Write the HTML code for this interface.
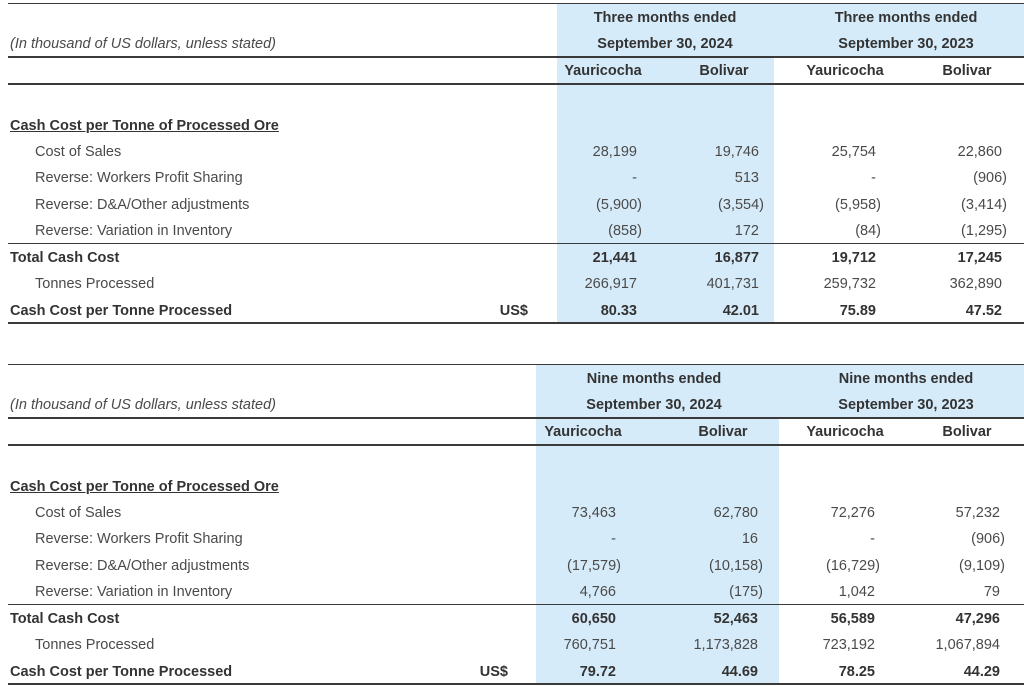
<!DOCTYPE html>
<html><head><meta charset="utf-8"><style>
body{margin:0;width:1024px;height:687px;background:#fff;position:relative;overflow:hidden;font-family:"Liberation Sans",Arial,sans-serif;font-size:14.5px;color:#4a4a4a}
div{position:absolute;white-space:nowrap;line-height:18px;margin-top:1px}
.b{font-weight:bold;color:#333}
.bg{background:#d6ebf9;position:absolute;margin-top:0}
.ln{left:8px;right:0;height:2px;background:#3a3a3a;margin-top:0}
.c{transform:translateX(-50%)}
i{font-style:italic}
</style></head><body>
<div class="bg" style="left:557px;width:467px;top:4px;height:53px"></div>
<div class="bg" style="left:557px;width:217px;top:57px;height:266px"></div>
<div class="bg" style="left:536px;width:488px;top:365px;height:53px"></div>
<div class="bg" style="left:536px;width:243px;top:418px;height:266px"></div>

<div class="ln" style="top:3px;height:1px"></div>
<div class="ln" style="top:56px"></div>
<div class="ln" style="top:83px"></div>
<div class="ln" style="top:243px;height:1px"></div>
<div class="ln" style="top:322px"></div>
<div class="ln" style="top:364px;height:1px"></div>
<div class="ln" style="top:417px"></div>
<div class="ln" style="top:444px"></div>
<div class="ln" style="top:604px;height:1px"></div>
<div class="ln" style="top:683px"></div>

<div class="b c" style="left:665px;top:8px">Three months ended</div>
<div class="b c" style="left:906px;top:8px">Three months ended</div>
<div style="left:10px;top:34px"><i>(In thousand of US dollars, unless stated)</i></div>
<div class="b c" style="left:665px;top:34px">September 30, 2024</div>
<div class="b c" style="left:906px;top:34px">September 30, 2023</div>
<div class="b c" style="left:603px;top:61px">Yauricocha</div>
<div class="b c" style="left:724px;top:61px">Bolivar</div>
<div class="b c" style="left:845px;top:61px">Yauricocha</div>
<div class="b c" style="left:967px;top:61px">Bolivar</div>
<div class="b" style="left:10px;top:116px;text-decoration:underline">Cash Cost per Tonne of Processed Ore</div>
<div style="left:35px;top:142px">Cost of Sales</div>
<div style="left:35px;top:168px">Reverse: Workers Profit Sharing</div>
<div style="left:35px;top:195px">Reverse: D&amp;A/Other adjustments</div>
<div style="left:35px;top:221px">Reverse: Variation in Inventory</div>
<div class="b" style="left:10px;top:248px">Total Cash Cost</div>
<div style="left:35px;top:274px">Tonnes Processed</div>
<div class="b" style="left:10px;top:301px">Cash Cost per Tonne Processed</div>
<div class="b" style="right:496px;top:301px">US$</div>

<div style="right:387px;top:142px">28,199</div><div style="right:265px;top:142px">19,746</div><div style="right:148px;top:142px">25,754</div><div style="right:22px;top:142px">22,860</div>
<div style="right:387px;top:168px">-</div><div style="right:265px;top:168px">513</div><div style="right:148px;top:168px">-</div><div style="right:17px;top:168px">(906)</div>
<div style="right:382px;top:195px">(5,900)</div><div style="right:260px;top:195px">(3,554)</div><div style="right:143px;top:195px">(5,958)</div><div style="right:17px;top:195px">(3,414)</div>
<div style="right:382px;top:221px">(858)</div><div style="right:265px;top:221px">172</div><div style="right:143px;top:221px">(84)</div><div style="right:17px;top:221px">(1,295)</div>
<div class="b" style="right:387px;top:248px">21,441</div><div class="b" style="right:265px;top:248px">16,877</div><div class="b" style="right:148px;top:248px">19,712</div><div class="b" style="right:22px;top:248px">17,245</div>
<div style="right:387px;top:274px">266,917</div><div style="right:265px;top:274px">401,731</div><div style="right:148px;top:274px">259,732</div><div style="right:22px;top:274px">362,890</div>
<div class="b" style="right:387px;top:301px">80.33</div><div class="b" style="right:265px;top:301px">42.01</div><div class="b" style="right:148px;top:301px">75.89</div><div class="b" style="right:22px;top:301px">47.52</div>

<div class="b c" style="left:654px;top:369px">Nine months ended</div>
<div class="b c" style="left:906px;top:369px">Nine months ended</div>
<div style="left:10px;top:395px"><i>(In thousand of US dollars, unless stated)</i></div>
<div class="b c" style="left:654px;top:395px">September 30, 2024</div>
<div class="b c" style="left:906px;top:395px">September 30, 2023</div>
<div class="b c" style="left:583px;top:422px">Yauricocha</div>
<div class="b c" style="left:723px;top:422px">Bolivar</div>
<div class="b c" style="left:845px;top:422px">Yauricocha</div>
<div class="b c" style="left:967px;top:422px">Bolivar</div>
<div class="b" style="left:10px;top:477px;text-decoration:underline">Cash Cost per Tonne of Processed Ore</div>
<div style="left:35px;top:503px">Cost of Sales</div>
<div style="left:35px;top:529px">Reverse: Workers Profit Sharing</div>
<div style="left:35px;top:556px">Reverse: D&amp;A/Other adjustments</div>
<div style="left:35px;top:582px">Reverse: Variation in Inventory</div>
<div class="b" style="left:10px;top:609px">Total Cash Cost</div>
<div style="left:35px;top:635px">Tonnes Processed</div>
<div class="b" style="left:10px;top:662px">Cash Cost per Tonne Processed</div>
<div class="b" style="right:516px;top:662px">US$</div>

<div style="right:408px;top:503px">73,463</div><div style="right:266px;top:503px">62,780</div><div style="right:149px;top:503px">72,276</div><div style="right:24px;top:503px">57,232</div>
<div style="right:408px;top:529px">-</div><div style="right:266px;top:529px">16</div><div style="right:149px;top:529px">-</div><div style="right:19px;top:529px">(906)</div>
<div style="right:403px;top:556px">(17,579)</div><div style="right:261px;top:556px">(10,158)</div><div style="right:144px;top:556px">(16,729)</div><div style="right:19px;top:556px">(9,109)</div>
<div style="right:408px;top:582px">4,766</div><div style="right:261px;top:582px">(175)</div><div style="right:149px;top:582px">1,042</div><div style="right:24px;top:582px">79</div>
<div class="b" style="right:408px;top:609px">60,650</div><div class="b" style="right:266px;top:609px">52,463</div><div class="b" style="right:149px;top:609px">56,589</div><div class="b" style="right:24px;top:609px">47,296</div>
<div style="right:408px;top:635px">760,751</div><div style="right:266px;top:635px">1,173,828</div><div style="right:149px;top:635px">723,192</div><div style="right:24px;top:635px">1,067,894</div>
<div class="b" style="right:408px;top:662px">79.72</div><div class="b" style="right:266px;top:662px">44.69</div><div class="b" style="right:149px;top:662px">78.25</div><div class="b" style="right:24px;top:662px">44.29</div>
</body></html>
